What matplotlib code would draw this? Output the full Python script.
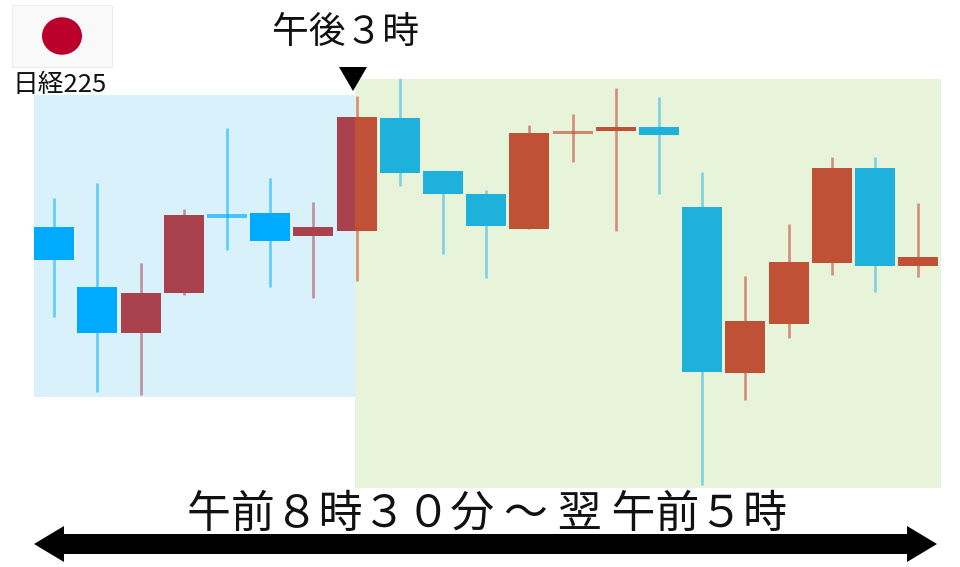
import matplotlib
matplotlib.use("Agg")
import matplotlib.pyplot as plt
from matplotlib.patches import Ellipse, Polygon, Rectangle

plt.rcParams['font.family'] = ['Noto Sans CJK JP', 'DejaVu Sans']

# candle values (pixel scale, small = high)
body_top = [227, 287, 293, 215, 214, 213, 227, 117, 118, 171, 194, 133, 130.5, 127, 127, 207, 321, 262, 168, 168, 257]
body_bottom = [260, 333, 333, 293, 217.5, 241, 236, 231, 173, 194, 226, 229, 134, 131, 135, 372, 373, 324, 263, 266, 266]
wick_high = [198, 183, 263, 209, 128, 178, 202, 96, 78, 171, 190, 125, 114, 88, 97, 172, 276, 224, 157, 157, 203]
wick_low = [317, 392, 395, 295, 250, 287, 298, 281, 186, 254, 278, 229, 162, 231, 194, 485, 400, 338, 275, 292, 277]
is_up = [0, 0, 1, 1, 0, 0, 1, 1, 0, 0, 0, 1, 1, 1, 0, 0, 1, 1, 1, 0, 1]

first_x = 54.2
step = 43.2
body_w = 40

fig = plt.figure(figsize=(9.6, 5.67), dpi=100)
ax = fig.add_axes([0, 0, 1, 1])
ax.set_xlim(0, 960)
ax.set_ylim(567, 0)
ax.axis('off')

# flag and label sit under the session bands
ax.add_patch(Rectangle((12, 5), 100, 62, fc='#F9F9F9', ec='#EDEDED', lw=0.8, zorder=1))
ax.add_patch(Ellipse((62, 36), 40, 37.5, fc='#BC002D', ec='none', zorder=2))
ax.text(60, 85, '日経225', fontsize=18.5, ha='center', va='center', color='#111111', zorder=1)

# (x, y, w, h, background, down body, up body, down wick, up wick)
sessions = [
    (34, 95, 321, 302, '#D8F1FB', '#00AAFF', '#AA424D', '#5CCBFF', '#C28E9E'),
    (355, 79, 586, 409, '#E8F4DA', '#1DB1DC', '#BF5236', '#7CD2E2', '#D38F76'),
]

for x, y, w, h, bg, down_c, up_c, down_w, up_w in sessions:
    band = Rectangle((x, y), w, h, fc=bg, ec='none', zorder=3)
    ax.add_patch(band)
    for i in range(len(body_top)):
        cx = first_x + i * step
        line, = ax.plot([cx, cx], [wick_high[i], wick_low[i]], lw=1.9,
                        color=up_w if is_up[i] else down_w, solid_capstyle='butt', zorder=4)
        # the very thin bodies come out pale in the blurred original
        thin = body_bottom[i] - body_top[i] < 4
        body = Rectangle((cx - body_w / 2, body_top[i]), body_w, body_bottom[i] - body_top[i],
                         fc=up_c if is_up[i] else down_c, ec='none', alpha=0.65 if thin else 1, zorder=5)
        ax.add_patch(body)
        line.set_clip_path(band)
        body.set_clip_path(band)

ax.add_patch(Polygon([(339, 67), (367, 67), (353, 91)], fc='black', ec='none', zorder=6))
ax.text(346, 33, '午後３時', fontsize=26.5, ha='center', va='center', color='#111111', zorder=6)

ax.text(487, 514, '午前８時３０分 ～ 翌 午前５時', fontsize=31.6, ha='center', va='center',
        color='#111111', zorder=6)

# double headed arrow along the bottom
ax.add_patch(Polygon([(34, 544), (64, 526), (64, 534), (907, 534), (907, 526), (937, 544),
                      (907, 562), (907, 554), (64, 554), (64, 562)],
                     fc='black', ec='none', zorder=6))

fig.savefig('out.png', dpi=100)
